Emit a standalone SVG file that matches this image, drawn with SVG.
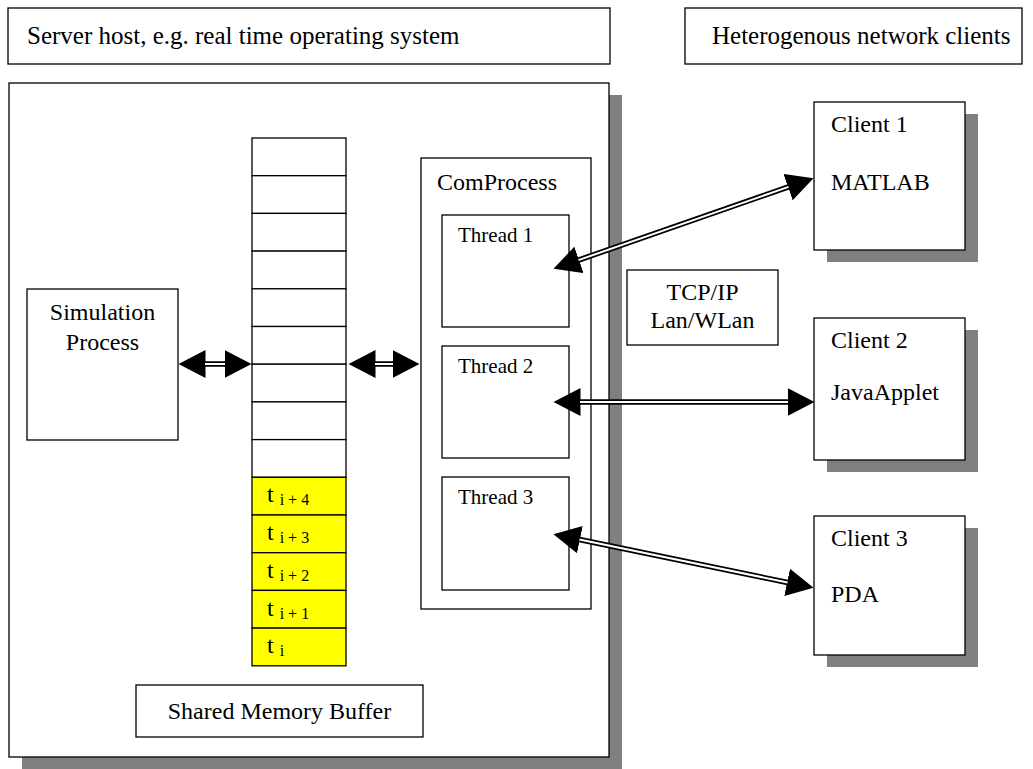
<svg xmlns="http://www.w3.org/2000/svg" width="1033" height="769" viewBox="0 0 1033 769">
  <style>
    .box { fill: #ffffff; stroke: #000000; stroke-width: 1.3; }
    .shadow { fill: #808080; }
    .cell { fill: #ffffff; stroke: #000000; stroke-width: 1.3; }
    .cell-full { fill: #ffff00; stroke: #000000; stroke-width: 1.3; }
    .lbl { font-family: "Liberation Serif", "Times New Roman", serif; font-size: 24px; fill: #000000; }
    .cap { font-family: "Liberation Serif", "Times New Roman", serif; font-size: 25px; fill: #000000; }
    .lbl-s { font-family: "Liberation Serif", "Times New Roman", serif; font-size: 21px; fill: #000000; }
    .mid { text-anchor: middle; }
    .t { font-family: "Liberation Serif", "Times New Roman", serif; font-size: 24px; fill: #000000; }
    .sub { font-size: 16px; }
    .shaft-outer { stroke: #000000; stroke-width: 5.5; fill: none; }
    .shaft-inner { stroke: #ffffff; stroke-width: 2; fill: none; }
  </style>
  <defs>
    <marker id="head" markerUnits="userSpaceOnUse" markerWidth="28" markerHeight="28"
            refX="0.5" refY="14" orient="auto-start-reverse" viewBox="0 0 28 28">
      <path d="M0,0 L27,14 L0,28 Z" fill="#000000"/>
    </marker>
  </defs>

  <rect width="1033" height="769" fill="#ffffff"/>

  <!-- header captions -->
  <g id="server-caption">
    <rect class="box" x="8" y="8" width="602" height="56"/>
    <text class="cap" x="27" y="44">Server host, e.g. real time operating system</text>
  </g>
  <g id="clients-caption">
    <rect class="box" x="685" y="8" width="337" height="56"/>
    <text class="cap" x="712" y="44">Heterogenous network clients</text>
  </g>

  <!-- server host frame -->
  <g id="server-host">
    <rect class="shadow" x="22" y="95" width="600" height="674"/>
    <rect class="box" x="9" y="83" width="600" height="674"/>
  </g>

  <g id="simulation-process">
    <rect class="box" x="27" y="289" width="151" height="151"/>
    <text class="lbl mid" x="102.5" y="320">Simulation</text>
    <text class="lbl mid" x="102.5" y="350">Process</text>
  </g>

  <!-- shared memory ring buffer: 9 free slots, 5 filled slots -->
  <g id="memory-buffer">
    <rect class="cell" x="252" y="138" width="94" height="37.7"/>
    <rect class="cell" x="252" y="175.7" width="94" height="37.7"/>
    <rect class="cell" x="252" y="213.4" width="94" height="37.7"/>
    <rect class="cell" x="252" y="251.1" width="94" height="37.7"/>
    <rect class="cell" x="252" y="288.8" width="94" height="37.7"/>
    <rect class="cell" x="252" y="326.5" width="94" height="37.7"/>
    <rect class="cell" x="252" y="364.2" width="94" height="37.7"/>
    <rect class="cell" x="252" y="401.9" width="94" height="37.7"/>
    <rect class="cell" x="252" y="439.6" width="94" height="37.7"/>
    <rect class="cell-full" x="252" y="477.3" width="94" height="37.7"/>
    <rect class="cell-full" x="252" y="515" width="94" height="37.7"/>
    <rect class="cell-full" x="252" y="552.7" width="94" height="37.7"/>
    <rect class="cell-full" x="252" y="590.4" width="94" height="37.7"/>
    <rect class="cell-full" x="252" y="628.1" width="94" height="37.7"/>
    <text class="t" x="267" y="502">t <tspan class="sub" dy="3">i + 4</tspan></text>
    <text class="t" x="267" y="540">t <tspan class="sub" dy="3">i + 3</tspan></text>
    <text class="t" x="267" y="578">t <tspan class="sub" dy="3">i + 2</tspan></text>
    <text class="t" x="267" y="616">t <tspan class="sub" dy="3">i + 1</tspan></text>
    <text class="t" x="267" y="653">t <tspan class="sub" dy="3">i</tspan></text>
  </g>

  <g id="shared-memory-label">
    <rect class="box" x="136" y="685" width="287" height="52"/>
    <text class="lbl mid" x="279.5" y="719">Shared Memory Buffer</text>
  </g>

  <g id="comprocess">
    <rect class="box" x="421" y="158" width="170" height="451"/>
    <text class="lbl" x="437" y="190">ComProcess</text>
  </g>
  <g id="thread-1">
    <rect class="box" x="442" y="215" width="127" height="112"/>
    <text class="lbl-s" x="458" y="242">Thread 1</text>
  </g>
  <g id="thread-2">
    <rect class="box" x="442" y="346" width="127" height="112"/>
    <text class="lbl-s" x="458" y="373">Thread 2</text>
  </g>
  <g id="thread-3">
    <rect class="box" x="442" y="477" width="127" height="113"/>
    <text class="lbl-s" x="458" y="504">Thread 3</text>
  </g>

  <g id="network">
    <rect class="box" x="627" y="270" width="151" height="75"/>
    <text class="lbl mid" x="702.5" y="300">TCP/IP</text>
    <text class="lbl mid" x="702.5" y="328">Lan/WLan</text>
  </g>

  <g id="client-1">
    <rect class="shadow" x="827" y="114" width="151" height="148"/>
    <rect class="box" x="814" y="102" width="151" height="148"/>
    <text class="lbl" x="831" y="132">Client 1</text>
    <text class="lbl" x="831" y="190">MATLAB</text>
  </g>
  <g id="client-2">
    <rect class="shadow" x="827" y="330" width="151" height="142"/>
    <rect class="box" x="814" y="318" width="151" height="142"/>
    <text class="lbl" x="831" y="348">Client 2</text>
    <text class="lbl" x="831" y="400">JavaApplet</text>
  </g>
  <g id="client-3">
    <rect class="shadow" x="827" y="528" width="151" height="139"/>
    <rect class="box" x="814" y="516" width="151" height="139"/>
    <text class="lbl" x="831" y="546">Client 3</text>
    <text class="lbl" x="831" y="602">PDA</text>
  </g>

  <!-- bidirectional double-line connectors; lines run base to base, heads via marker -->
  <g id="connectors">
    <line class="shaft-outer" x1="205" y1="364" x2="225" y2="364" marker-start="url(#head)" marker-end="url(#head)"/>
    <line class="shaft-inner" x1="205" y1="364" x2="225" y2="364"/>

    <line class="shaft-outer" x1="375" y1="364" x2="393" y2="364" marker-start="url(#head)" marker-end="url(#head)"/>
    <line class="shaft-inner" x1="375" y1="364" x2="393" y2="364"/>

    <line class="shaft-outer" x1="578.5" y1="260.1" x2="788.5" y2="186.9" marker-start="url(#head)" marker-end="url(#head)"/>
    <line class="shaft-inner" x1="578.5" y1="260.1" x2="788.5" y2="186.9"/>

    <line class="shaft-outer" x1="580" y1="402" x2="788" y2="402" marker-start="url(#head)" marker-end="url(#head)"/>
    <line class="shaft-inner" x1="580" y1="402" x2="788" y2="402"/>

    <line class="shaft-outer" x1="579.4" y1="539.5" x2="787.6" y2="582.5" marker-start="url(#head)" marker-end="url(#head)"/>
    <line class="shaft-inner" x1="579.4" y1="539.5" x2="787.6" y2="582.5"/>
  </g>
</svg>
